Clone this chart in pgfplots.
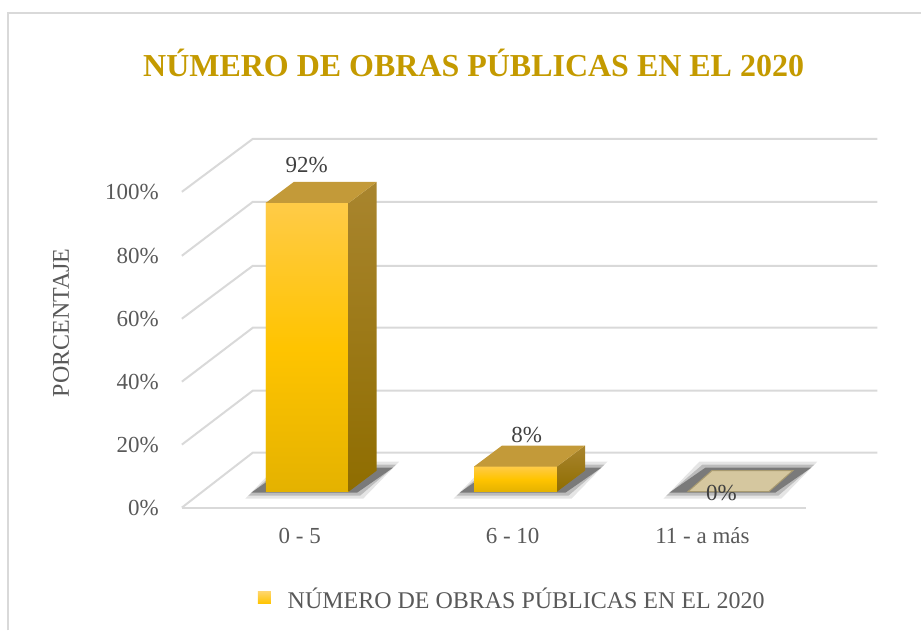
\documentclass[border=0pt]{standalone}
\usepackage{fontspec}
\setmainfont{Liberation Serif}
\usepackage{pgfplots}
\usepackage{pgfplotstable}
\pgfplotsset{compat=1.18}
\definecolor{gridc}{HTML}{D9D9D9}
\definecolor{txt}{HTML}{595959}
\definecolor{lab}{HTML}{404040}
\definecolor{titc}{HTML}{C49A00}
\definecolor{fronttop}{HTML}{FFCB47}
\definecolor{frontmid}{HTML}{FFC400}
\definecolor{frontbot}{HTML}{E4B200}
\definecolor{sidetop}{HTML}{A9852E}
\definecolor{sidebot}{HTML}{8F6D00}
\definecolor{topc}{HTML}{C39A39}
\definecolor{tanc}{HTML}{D5C79F}
\definecolor{tanb}{HTML}{A89A70}
\newcommand{\regfont}{\fontsize{23}{27}\selectfont}
\newcommand{\bigfont}{\fontsize{24}{28}\selectfont}
\pgfdeclareplotmark{empty}{}

\pgfplotstableread{
x v
307.5 92
516 8
726 0
}\datatable

\begin{document}
\begin{tikzpicture}
\begin{axis}[
  set layers,
  x=1pt, y=3.14pt,
  xmin=0, xmax=922, ymin=-44.27, ymax=156.69,
  clip=false,
  axis line style={draw=none},
  tick style={draw=none},
  major tick length=0pt,
  ytick={-5.10,14.97,35.03,55.10,75.16,95.54},
  yticklabels={0\%,20\%,40\%,60\%,80\%,100\%},
  yticklabel style={anchor=east, xshift=159pt, inner sep=0pt, font=\regfont, text=txt},
  xtick={300,513,703},
  xticklabels={0 - 5,6 - 10,11 - a más},
  xticklabel style={anchor=base, yshift=87pt, inner sep=0pt, font=\regfont, text=txt},
  ylabel={PORCENTAJE},
  ylabel style={at={(axis description cs:0.0662,0.4881)}, anchor=center, inner sep=0pt, font=\bigfont, text=txt},
  title={NÚMERO DE OBRAS PÚBLICAS EN EL 2020},
  title style={at={(axis description cs:0.5141,0.8685)}, anchor=base, inner sep=0pt, font=\fontsize{32}{38}\selectfont\bfseries, text=titc},
  legend style={at={(axis description cs:0.2798,0.0333)}, anchor=south west, draw=none, fill=none,
    inner sep=0pt, outer sep=0pt, column sep=17pt,
    nodes={inner sep=0pt, outer sep=0pt, font=\bigfont, text=txt}},
]
\begin{pgfonlayer}{axis background}
% border of the chart area
\draw[gridc, line width=1.5pt] (axis cs:8,-44.27) -- (axis cs:8,152.55) -- (axis cs:922,152.55);
% floor / walls grid
\draw[gridc, line width=2pt] (axis cs:182,-5.10) -- (axis cs:253,12.42) -- (axis cs:878,12.42);
\draw[gridc, line width=2pt] (axis cs:182,14.97) -- (axis cs:253,32.17) -- (axis cs:878,32.17);
\draw[gridc, line width=2pt] (axis cs:182,35.03) -- (axis cs:253,52.23) -- (axis cs:878,52.23);
\draw[gridc, line width=2pt] (axis cs:182,55.10) -- (axis cs:253,71.97) -- (axis cs:878,71.97);
\draw[gridc, line width=2pt] (axis cs:182,75.16) -- (axis cs:253,92.36) -- (axis cs:878,92.36);
\draw[gridc, line width=2pt] (axis cs:182,95.54) -- (axis cs:253,112.42) -- (axis cs:878,112.42);
\draw[gridc, line width=2pt] (axis cs:182,-5.10) -- (axis cs:807,-5.10);
\end{pgfonlayer}

% front faces of the bars (data bars)
\addplot[ybar, bar width=83, bar shift=0pt, draw=none,
  top color=fronttop, bottom color=frontbot, middle color=frontmid,
  restrict y to domain=0.5:200,
  legend image code/.code={\shade[draw=none, top color=fronttop!80!white, bottom color=frontmid] (0pt,-5pt) rectangle (13pt,7pt);},
] table[x=x,y=v] {\datatable};
\addlegendentry{NÚMERO DE OBRAS PÚBLICAS EN EL 2020}

% 3-D rendering of each bar: shadow, front, side and top faces
\addplot[scatter, only marks, mark=empty, forget plot,
  scatter/use mapped color={draw=none, fill=none},
  visualization depends on={\thisrow{v} \as \barv},
  scatter/@pre marker code/.code={%
    \pgfmathsetmacro{\hh}{\barv*3.14}%
    \foreach \e/\o in {6/0.10,3/0.18,0/0.35}{%
      \fill[draw=none, black, opacity=\o] (-56pt-\e pt,-\hh pt-1pt-\e pt) -- (50pt+\e pt,-\hh pt-1pt-\e pt)
        -- (86pt+\e pt,-\hh pt+24pt+\e pt) -- (-20pt-\e pt,-\hh pt+24pt+\e pt) -- cycle;}%
    \ifdim\barv pt>0.5pt
      \shade[draw=none, top color=fronttop, bottom color=frontbot, middle color=frontmid] (-41.5pt,-\hh pt) rectangle (41.5pt,0pt);
      \shade[draw=none, top color=sidetop, bottom color=sidebot] (41.5pt,0pt) -- (69.5pt,21pt) -- (69.5pt,21pt-\hh pt) -- (41.5pt,-\hh pt) -- cycle;
      \fill[draw=none, topc] (-41.5pt,0pt) -- (41.5pt,0pt) -- (69.5pt,21pt) -- (-13.5pt,21pt) -- cycle;
    \else
      \fill[tanc, draw=tanb, line width=1pt] (-37.5pt,0pt) -- (43.5pt,0pt) -- (67.5pt,21pt) -- (-13.5pt,21pt) -- cycle;
    \fi
  },
  scatter/@post marker code/.code={},
] table[x=x,y=v] {\datatable};

% data labels
\begin{pgfonlayer}{axis foreground}
\node[font=\regfont, text=lab] at (axis cs:307,104.14) {92\%};
\node[font=\regfont, text=lab] at (axis cs:527,18.15) {8\%};
\node[font=\regfont, text=lab] at (axis cs:722,-0.32) {0\%};
\end{pgfonlayer}
\end{axis}
\end{tikzpicture}
\end{document}
